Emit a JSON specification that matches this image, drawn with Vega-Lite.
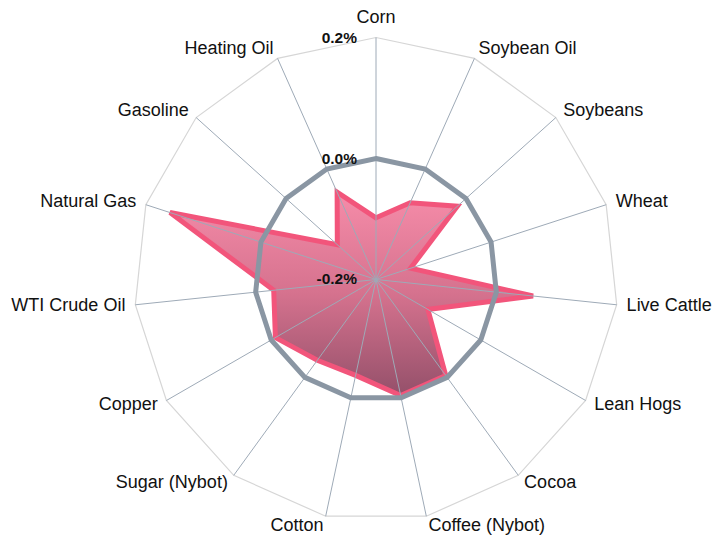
{
  "$schema": "https://vega.github.io/schema/vega-lite/v6.json",
  "width": 714,
  "height": 541,
  "autosize": "none",
  "padding": 0,
  "background": "white",
  "config": {"view": {"stroke": null}},
  "datasets": {
    "commodities": [
      {"idx": 0, "commodity": "Corn", "value": -0.098},
      {"idx": 1, "commodity": "Soybean Oil", "value": -0.061},
      {"idx": 2, "commodity": "Soybeans", "value": -0.019},
      {"idx": 3, "commodity": "Wheat", "value": -0.140},
      {"idx": 4, "commodity": "Live Cattle", "value": 0.061},
      {"idx": 5, "commodity": "Lean Hogs", "value": -0.101},
      {"idx": 6, "commodity": "Cocoa", "value": -0.004},
      {"idx": 7, "commodity": "Coffee (Nybot)", "value": -0.004},
      {"idx": 8, "commodity": "Cotton", "value": -0.038},
      {"idx": 9, "commodity": "Sugar (Nybot)", "value": -0.035},
      {"idx": 10, "commodity": "Copper", "value": -0.008},
      {"idx": 11, "commodity": "WTI Crude Oil", "value": -0.030},
      {"idx": 12, "commodity": "Natural Gas", "value": 0.158},
      {"idx": 13, "commodity": "Gasoline", "value": -0.114},
      {"idx": 14, "commodity": "Heating Oil", "value": -0.042}
    ],
    "rings": [
      {"ring": "outer", "idx": 0, "value": 0.2}, {"ring": "outer", "idx": 1, "value": 0.2},
      {"ring": "outer", "idx": 2, "value": 0.2}, {"ring": "outer", "idx": 3, "value": 0.2},
      {"ring": "outer", "idx": 4, "value": 0.2}, {"ring": "outer", "idx": 5, "value": 0.2},
      {"ring": "outer", "idx": 6, "value": 0.2}, {"ring": "outer", "idx": 7, "value": 0.2},
      {"ring": "outer", "idx": 8, "value": 0.2}, {"ring": "outer", "idx": 9, "value": 0.2},
      {"ring": "outer", "idx": 10, "value": 0.2}, {"ring": "outer", "idx": 11, "value": 0.2},
      {"ring": "outer", "idx": 12, "value": 0.2}, {"ring": "outer", "idx": 13, "value": 0.2},
      {"ring": "outer", "idx": 14, "value": 0.2},
      {"ring": "zero", "idx": 0, "value": 0.0}, {"ring": "zero", "idx": 1, "value": 0.0},
      {"ring": "zero", "idx": 2, "value": 0.0}, {"ring": "zero", "idx": 3, "value": 0.0},
      {"ring": "zero", "idx": 4, "value": 0.0}, {"ring": "zero", "idx": 5, "value": 0.0},
      {"ring": "zero", "idx": 6, "value": 0.0}, {"ring": "zero", "idx": 7, "value": 0.0},
      {"ring": "zero", "idx": 8, "value": 0.0}, {"ring": "zero", "idx": 9, "value": 0.0},
      {"ring": "zero", "idx": 10, "value": 0.0}, {"ring": "zero", "idx": 11, "value": 0.0},
      {"ring": "zero", "idx": 12, "value": 0.0}, {"ring": "zero", "idx": 13, "value": 0.0},
      {"ring": "zero", "idx": 14, "value": 0.0}
    ],
    "ticks": [
      {"value": 0.2, "label": "0.2%"},
      {"value": 0.0, "label": "0.0%"},
      {"value": -0.2, "label": "-0.2%"}
    ]
  },
  "layer": [
    {
      "data": {"name": "rings"},
      "transform": [
        {"filter": "datum.ring === 'outer'"},
        {"calculate": "datum.idx * 2 * PI / 15", "as": "ang"},
        {"calculate": "(datum.value + 0.2) / 0.4", "as": "n"},
        {"calculate": "datum.n * sin(datum.ang)", "as": "px"},
        {"calculate": "datum.n * cos(datum.ang)", "as": "py"}
      ],
      "mark": {"type": "line", "interpolate": "linear-closed", "stroke": "#d6d6d6", "strokeWidth": 1.2},
      "encoding": {
        "x": {"field": "px", "type": "quantitative", "scale": {"domain": [-1.55372, 1.39669], "nice": false, "zero": false}, "axis": null},
        "y": {"field": "py", "type": "quantitative", "scale": {"domain": [-1.08058, 1.15496], "nice": false, "zero": false}, "axis": null},
        "order": {"field": "idx", "type": "quantitative"}
      }
    },
    {
      "data": {"name": "commodities"},
      "transform": [
        {"calculate": "datum.idx * 2 * PI / 15", "as": "ang"},
        {"calculate": "(datum.value + 0.2) / 0.4", "as": "n"},
        {"calculate": "datum.n * sin(datum.ang)", "as": "px"},
        {"calculate": "datum.n * cos(datum.ang)", "as": "py"}
      ],
      "mark": {
        "type": "line",
        "interpolate": "linear-closed",
        "stroke": "#f2557b",
        "strokeWidth": 5,
        "strokeJoin": "miter",
        "fill": {
          "gradient": "linear", "x1": 0, "y1": 0, "x2": 0, "y2": 1,
          "stops": [
            {"offset": 0, "color": "#f68ca9"},
            {"offset": 0.5, "color": "#d5728e"},
            {"offset": 1, "color": "#94506a"}
          ]
        }
      },
      "encoding": {
        "x": {"field": "px", "type": "quantitative"},
        "y": {"field": "py", "type": "quantitative"},
        "order": {"field": "idx", "type": "quantitative"}
      }
    },
    {
      "data": {"name": "rings"},
      "transform": [
        {"filter": "datum.ring === 'outer'"},
        {"calculate": "datum.idx * 2 * PI / 15", "as": "ang"},
        {"calculate": "(datum.value + 0.2) / 0.4", "as": "n"},
        {"calculate": "datum.n * sin(datum.ang)", "as": "px"},
        {"calculate": "datum.n * cos(datum.ang)", "as": "py"}
      ],
      "mark": {"type": "rule", "stroke": "#9eaab7", "strokeWidth": 1},
      "encoding": {
        "x": {"field": "px", "type": "quantitative"},
        "y": {"field": "py", "type": "quantitative"},
        "x2": {"datum": 0},
        "y2": {"datum": 0}
      }
    },
    {
      "data": {"name": "rings"},
      "transform": [
        {"filter": "datum.ring === 'zero'"},
        {"calculate": "datum.idx * 2 * PI / 15", "as": "ang"},
        {"calculate": "(datum.value + 0.2) / 0.4", "as": "n"},
        {"calculate": "datum.n * sin(datum.ang)", "as": "px"},
        {"calculate": "datum.n * cos(datum.ang)", "as": "py"}
      ],
      "mark": {"type": "line", "interpolate": "linear-closed", "stroke": "#8a96a3", "strokeWidth": 5, "strokeJoin": "miter"},
      "encoding": {
        "x": {"field": "px", "type": "quantitative"},
        "y": {"field": "py", "type": "quantitative"},
        "order": {"field": "idx", "type": "quantitative"}
      }
    },
    {
      "data": {"name": "ticks"},
      "transform": [
        {"calculate": "(datum.value + 0.2) / 0.4", "as": "n"}
      ],
      "mark": {"type": "text", "align": "right", "baseline": "middle", "dx": -19, "font": "Liberation Sans", "fontSize": 15.5, "fontWeight": "bold", "fill": "#111111"},
      "encoding": {
        "x": {"datum": 0},
        "y": {"field": "n", "type": "quantitative"},
        "text": {"field": "label"}
      }
    },
    {
      "data": {"name": "commodities"},
      "transform": [
        {"filter": "datum.idx === 0"},
        {"calculate": "datum.idx * 2 * PI / 15", "as": "ang"},
        {"calculate": "1.0413 * sin(datum.ang)", "as": "lx"},
        {"calculate": "1.0413 * cos(datum.ang)", "as": "ly"}
      ],
      "mark": {"type": "text", "align": "center", "baseline": "middle", "dy": -10, "font": "Liberation Sans", "fontSize": 18, "fill": "#111111"},
      "encoding": {
        "x": {"field": "lx", "type": "quantitative"},
        "y": {"field": "ly", "type": "quantitative"},
        "text": {"field": "commodity"}
      }
    },
    {
      "data": {"name": "commodities"},
      "transform": [
        {"filter": "datum.idx >= 1 && datum.idx <= 7"},
        {"calculate": "datum.idx * 2 * PI / 15", "as": "ang"},
        {"calculate": "1.0413 * sin(datum.ang)", "as": "lx"},
        {"calculate": "1.0413 * cos(datum.ang)", "as": "ly"}
      ],
      "mark": {"type": "text", "align": "left", "baseline": "middle", "font": "Liberation Sans", "fontSize": 18, "fill": "#111111"},
      "encoding": {
        "x": {"field": "lx", "type": "quantitative"},
        "y": {"field": "ly", "type": "quantitative"},
        "text": {"field": "commodity"}
      }
    },
    {
      "data": {"name": "commodities"},
      "transform": [
        {"filter": "datum.idx >= 8"},
        {"calculate": "datum.idx * 2 * PI / 15", "as": "ang"},
        {"calculate": "1.0413 * sin(datum.ang)", "as": "lx"},
        {"calculate": "1.0413 * cos(datum.ang)", "as": "ly"}
      ],
      "mark": {"type": "text", "align": "right", "baseline": "middle", "font": "Liberation Sans", "fontSize": 18, "fill": "#111111"},
      "encoding": {
        "x": {"field": "lx", "type": "quantitative"},
        "y": {"field": "ly", "type": "quantitative"},
        "text": {"field": "commodity"}
      }
    }
  ]
}
